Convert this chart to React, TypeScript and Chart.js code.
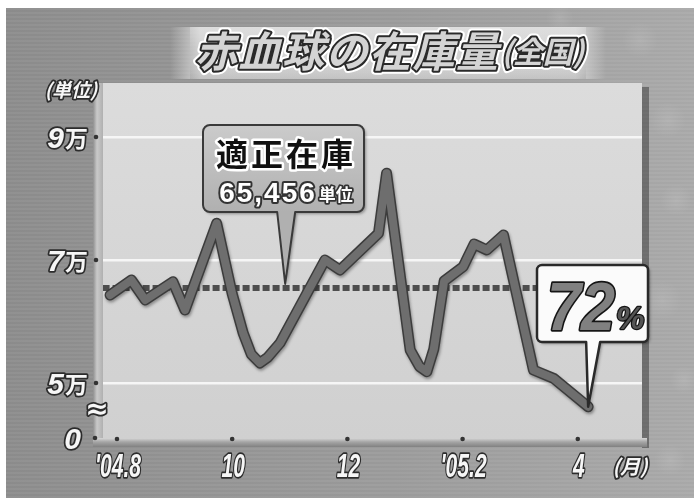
import React, { useEffect, useRef } from "react";
import { Chart, registerables } from "chart.js";

Chart.register(...registerables);

// ---------- text ----------
const TITLE_MAIN = "赤血球の在庫量";
const TITLE_SUB = "(全国)";
const Y_UNIT = "(単位)";
const X_UNIT = "(月)";
const Y_BREAK = "≈";

// ---------- data ----------
// x position in months counted from Aug 2004 ('04.8 = 0)
const months = [-0.12, 0.25, 0.49, 0.97, 1.18, 1.73, 2.0, 2.19, 2.33, 2.48, 2.62, 2.83, 3.61, 3.87, 4.54, 4.68, 5.09, 5.25, 5.38, 5.5, 5.68, 6.01, 6.2, 6.42, 6.71, 7.23, 7.58, 8.18];
// red blood cell stock (units)
const stock = [64300, 66750, 63500, 66470, 61870, 75970, 64500, 58130, 54700, 53250, 54200, 56500, 70000, 68370, 74340, 84100, 55370, 52700, 51840, 55500, 66590, 68910, 72600, 71630, 74070, 52110, 50760, 46150];

const targetStock = 65456;
const targetSpan = [-0.25, 9.2];

const xTickValues = [0, 2, 4, 6, 8];
const xTickLabels = ["'04.8", "10", "12", "'05.2", "4"];
const yTickValues = [50000, 70000, 90000];
const yTickDigits = ["5", "7", "9"];
const yTickUnit = "万";
const yBaseLabel = "0";

const X_MIN = -0.243;
const X_MAX = 9.115;
const Y_MIN = 41060;
const Y_MAX = 98780;

const calloutTitle = "適正在庫";
const calloutUnit = "単位";
const calloutMonth = 2.92;
const latestRatio = "72";
const latestRatioUnit = "%";

// ---------- fonts ----------
const JP = "'Noto Sans CJK JP', 'Noto Sans CJK SC', sans-serif";
const NUM = "'Liberation Sans', Arial, sans-serif";

type TxtOpts = {
  font: string;
  fill: string | CanvasGradient;
  stroke?: string;
  sw?: number;
  outer?: string;
  ow?: number;
  align?: CanvasTextAlign;
  baseline?: CanvasTextBaseline;
  spacing?: string;
  scaleX?: number;
};

function txt(ctx: CanvasRenderingContext2D, s: string, x: number, y: number, o: TxtOpts) {
  ctx.save();
  ctx.font = o.font;
  ctx.textAlign = o.align || "left";
  ctx.textBaseline = o.baseline || "alphabetic";
  if (o.spacing) (ctx as any).letterSpacing = o.spacing;
  ctx.translate(x, y);
  if (o.scaleX) ctx.scale(o.scaleX, 1);
  ctx.lineJoin = "round";
  if (o.outer) {
    ctx.strokeStyle = o.outer;
    ctx.lineWidth = o.ow || 6;
    ctx.strokeText(s, 0, 0);
  }
  if (o.stroke) {
    ctx.strokeStyle = o.stroke;
    ctx.lineWidth = o.sw || 3;
    ctx.strokeText(s, 0, 0);
  }
  ctx.fillStyle = o.fill;
  ctx.fillText(s, 0, 0);
  ctx.restore();
}

function measure(ctx: CanvasRenderingContext2D, s: string, font: string, spacing?: string) {
  ctx.save();
  ctx.font = font;
  if (spacing) (ctx as any).letterSpacing = spacing;
  const w = ctx.measureText(s).width;
  ctx.restore();
  return w;
}

function calloutPath(
  ctx: CanvasRenderingContext2D,
  x: number, y: number, w: number, h: number, r: number,
  bl: number, br: number, tx: number, ty: number
) {
  ctx.beginPath();
  ctx.moveTo(x + r, y);
  ctx.lineTo(x + w - r, y);
  ctx.arcTo(x + w, y, x + w, y + r, r);
  ctx.lineTo(x + w, y + h - r);
  ctx.arcTo(x + w, y + h, x + w - r, y + h, r);
  ctx.lineTo(br, y + h);
  ctx.lineTo(tx, ty);
  ctx.lineTo(bl, y + h);
  ctx.lineTo(x + r, y + h);
  ctx.arcTo(x, y + h, x, y + h - r, r);
  ctx.lineTo(x, y + r);
  ctx.arcTo(x, y, x + r, y, r);
  ctx.closePath();
}

const backdropPlugin = {
  id: "backdrop",
  beforeDraw(chart: any) {
    const ctx: CanvasRenderingContext2D = chart.ctx;
    const a = chart.chartArea;
    const W = chart.width;
    const H = chart.height;
    ctx.save();
    ctx.fillStyle = "#ffffff";
    ctx.fillRect(0, 0, W, H);
    const g = ctx.createLinearGradient(6, 0, W, 0);
    g.addColorStop(0, "#8b8b8b");
    g.addColorStop(0.5, "#989898");
    g.addColorStop(1, "#a8a8a8");
    ctx.fillStyle = g;
    ctx.fillRect(6, 8, W - 6, H - 8);
    ctx.fillStyle = "rgba(255,255,255,0.06)";
    for (let y = 8; y < H; y += 4) ctx.fillRect(6, y, W - 6, 2);
    const blobs = [
      [668, 120, 18], [676, 200, 16], [662, 300, 20], [684, 380, 14], [640, 40, 18], [560, 18, 14], [670, 460, 16],
    ];
    for (const [bx, by, br] of blobs) {
      const rg = ctx.createRadialGradient(bx, by, 0, bx, by, br);
      rg.addColorStop(0, "rgba(255,255,255,0.10)");
      rg.addColorStop(1, "rgba(255,255,255,0)");
      ctx.fillStyle = rg;
      ctx.beginPath();
      ctx.arc(bx, by, br, 0, Math.PI * 2);
      ctx.fill();
    }
    const bx0 = 170, bx1 = 606, by0 = 27, by1 = 79;
    const bg = ctx.createLinearGradient(bx0, 0, bx1, 0);
    bg.addColorStop(0, "rgba(214,214,214,0)");
    bg.addColorStop(0.07, "rgba(214,214,214,0.95)");
    bg.addColorStop(0.93, "rgba(214,214,214,0.95)");
    bg.addColorStop(1, "rgba(214,214,214,0)");
    ctx.fillStyle = bg;
    ctx.fillRect(bx0, by0, bx1 - bx0, by1 - by0);
    const vg = ctx.createLinearGradient(0, by0, 0, by1);
    vg.addColorStop(0, "rgba(255,255,255,0.25)");
    vg.addColorStop(0.5, "rgba(255,255,255,0)");
    vg.addColorStop(1, "rgba(0,0,0,0.08)");
    ctx.fillStyle = vg;
    ctx.fillRect(bx0 + 20, by0, bx1 - bx0 - 40, by1 - by0);
    ctx.fillStyle = "rgba(40,40,40,0.45)";
    ctx.fillRect(a.right, a.top + 4, 7, a.bottom - a.top + 6);
    const pg = ctx.createLinearGradient(0, a.top, 0, a.bottom);
    pg.addColorStop(0, "#dcdcdc");
    pg.addColorStop(1, "#d0d0d0");
    ctx.fillStyle = pg;
    ctx.fillRect(a.left, a.top, a.right - a.left, a.bottom - a.top);
    const wg = ctx.createLinearGradient(a.left - 10, 0, a.left, 0);
    wg.addColorStop(0, "#8f8f8f");
    wg.addColorStop(0.4, "#c9c9c9");
    wg.addColorStop(1, "#b0b0b0");
    ctx.fillStyle = wg;
    ctx.fillRect(a.left - 10, a.top, 10, a.bottom - a.top + 2);
    const fg = ctx.createLinearGradient(0, a.bottom, 0, a.bottom + 10);
    fg.addColorStop(0, "#d6d6d6");
    fg.addColorStop(0.4, "#a5a5a5");
    fg.addColorStop(1, "#7a7a7a");
    ctx.fillStyle = fg;
    ctx.fillRect(a.left - 10, a.bottom, a.right - a.left + 15, 9);
    ctx.restore();
  },
  beforeDatasetDraw(chart: any, args: any) {
    if (args.index !== 0) return;
    const ctx: CanvasRenderingContext2D = chart.ctx;
    const el = args.meta.dataset;
    ctx.save();
    ctx.beginPath();
    el.path(ctx);
    ctx.lineJoin = "round";
    ctx.lineCap = "round";
    ctx.lineWidth = 11;
    ctx.strokeStyle = "#3c3c3c";
    ctx.shadowColor = "rgba(0,0,0,0.35)";
    ctx.shadowBlur = 3;
    ctx.shadowOffsetX = 1;
    ctx.shadowOffsetY = 2;
    ctx.stroke();
    ctx.restore();
  },
  afterDraw(chart: any) {
    const ctx: CanvasRenderingContext2D = chart.ctx;
    const xs = chart.scales.x;
    const ys = chart.scales.y;
    const a = chart.chartArea;
    const lbl = { fill: "#f6f6f6", stroke: "#2c2c2c", sw: 3.5 };

    ctx.save();
    ctx.fillStyle = "#333";
    for (const v of xTickValues) {
      ctx.beginPath();
      ctx.arc(xs.getPixelForValue(v), a.bottom + 1, 2.3, 0, Math.PI * 2);
      ctx.fill();
    }
    for (const v of yTickValues) {
      ctx.beginPath();
      ctx.arc(a.left - 7, ys.getPixelForValue(v), 2.3, 0, Math.PI * 2);
      ctx.fill();
    }
    ctx.beginPath();
    ctx.arc(a.left - 8, a.bottom, 2.3, 0, Math.PI * 2);
    ctx.fill();
    ctx.restore();

    const unitFont = `bold 23px ${JP}`;
    const uw = measure(ctx, yTickUnit, unitFont);
    yTickValues.forEach((v, i) => {
      const py = ys.getPixelForValue(v);
      txt(ctx, yTickUnit, 88 - uw, py + 10, { font: unitFont, ...lbl });
      txt(ctx, yTickDigits[i], 88 - uw - 1, py + 11, { font: `italic bold 30px ${NUM}`, align: "right", ...lbl });
    });
    txt(ctx, yBaseLabel, 81, ys.getPixelForValue(Y_MIN) + 11, { font: `italic bold 30px ${NUM}`, align: "right", ...lbl });
    txt(ctx, Y_BREAK, 97, 411, { font: `bold 28px 'DejaVu Sans', sans-serif`, align: "center", baseline: "middle", ...lbl });
    txt(ctx, Y_UNIT, 71, 90, { font: `italic bold 19px ${JP}`, align: "center", baseline: "middle", ...lbl });

    xTickValues.forEach((v, i) => {
      txt(ctx, xTickLabels[i], xs.getPixelForValue(v) + 1, 477, {
        font: `italic bold 34px ${NUM}`, align: "center", scaleX: 0.62, ...lbl,
      });
    });
    txt(ctx, X_UNIT, 630, 466, { font: `italic bold 20px ${JP}`, align: "center", baseline: "middle", ...lbl });

    const tf = `italic bold 42px ${JP}`;
    const tw = measure(ctx, TITLE_MAIN, tf, "1.5px");
    const titleStyle = { fill: "#d4d4d4", stroke: "#2a2a2a", sw: 4, outer: "#ffffff", ow: 8, baseline: "middle" as CanvasTextBaseline };
    txt(ctx, TITLE_MAIN, 195, 51, { font: tf, spacing: "1.5px", ...titleStyle });
    txt(ctx, TITLE_SUB, 195 + tw + 2, 52, { font: `italic bold 30px ${JP}`, ...titleStyle });

    const tipX = xs.getPixelForValue(calloutMonth);
    const tipY = ys.getPixelForValue(targetStock) - 4;
    ctx.save();
    calloutPath(ctx, 203, 125, 161, 87, 7, tipX - 8, tipX + 10, tipX, tipY);
    const cg = ctx.createLinearGradient(0, 125, 0, 212);
    cg.addColorStop(0, "#cbcbcb");
    cg.addColorStop(1, "#b0b0b0");
    ctx.fillStyle = cg;
    ctx.shadowColor = "rgba(0,0,0,0.35)";
    ctx.shadowBlur = 3;
    ctx.shadowOffsetX = 2;
    ctx.shadowOffsetY = 2;
    ctx.fill();
    ctx.shadowColor = "transparent";
    ctx.lineWidth = 2;
    ctx.strokeStyle = "#3a3a3a";
    ctx.lineJoin = "round";
    ctx.stroke();
    ctx.restore();
    txt(ctx, calloutTitle, 286, 154, {
      font: `bold 32px ${JP}`, align: "center", baseline: "middle", spacing: "3px",
      fill: "#111111", stroke: "#ffffff", sw: 5,
    });
    const valText = targetStock.toLocaleString("en-US");
    const vf = `bold 28px ${NUM}`;
    const uf = `bold 17px ${JP}`;
    const w1 = measure(ctx, valText, vf, "2px");
    const w2 = measure(ctx, calloutUnit, uf);
    const sx = 286 - (w1 + w2 + 2) / 2;
    txt(ctx, valText, sx, 202, { font: vf, spacing: "2px", fill: "#ffffff", stroke: "#333333", sw: 4 });
    txt(ctx, calloutUnit, sx + w1 + 2, 201, { font: uf, fill: "#ffffff", stroke: "#333333", sw: 3.5 });

    const meta = chart.getDatasetMeta(0);
    const last = meta.data[meta.data.length - 1];
    ctx.save();
    calloutPath(ctx, 537, 265, 111, 77, 5, last.x - 2, last.x + 12, last.x, last.y);
    ctx.fillStyle = "#fbfbfb";
    ctx.shadowColor = "rgba(0,0,0,0.35)";
    ctx.shadowBlur = 3;
    ctx.shadowOffsetX = 2;
    ctx.shadowOffsetY = 2;
    ctx.fill();
    ctx.shadowColor = "transparent";
    ctx.lineWidth = 2.5;
    ctx.strokeStyle = "#2a2a2a";
    ctx.lineJoin = "round";
    ctx.stroke();
    ctx.restore();
    const rf = `italic bold 68px ${NUM}`;
    const rw = measure(ctx, latestRatio, rf) * 0.9;
    const rg = ctx.createLinearGradient(0, 280, 0, 330);
    rg.addColorStop(0, "#808080");
    rg.addColorStop(1, "#3c3c3c");
    txt(ctx, latestRatio, 547, 330, { font: rf, scaleX: 0.9, fill: rg, stroke: "#151515", sw: 3.5 });
    txt(ctx, latestRatioUnit, 547 + rw + 1, 329, { font: `italic bold 32px ${NUM}`, fill: "#555555", stroke: "#151515", sw: 2.5 });
  },
};

export default function App() {
  const ref = useRef<HTMLCanvasElement | null>(null);

  useEffect(() => {
    if (!ref.current) return;
    const chart = new Chart(ref.current, {
      type: "line",
      data: {
        datasets: [
          {
            label: "在庫量",
            data: months.map((m, i) => ({ x: m, y: stock[i] })),
            borderColor: "#6e6e6e",
            borderWidth: 8,
            pointRadius: 0,
            tension: 0,
            borderJoinStyle: "round",
            borderCapStyle: "round",
            clip: false,
            order: 1,
          } as any,
          {
            label: "適正在庫",
            data: targetSpan.map((m) => ({ x: m, y: targetStock })),
            borderColor: "#4e4e4e",
            borderWidth: 6,
            borderDash: [7, 3],
            pointRadius: 0,
            tension: 0,
            order: 2,
          } as any,
        ],
      },
      options: {
        animation: false,
        responsive: false,
        devicePixelRatio: 1,
        events: [],
        layout: { padding: { top: 83, right: 52, bottom: 0, left: 0 }, autoPadding: false } as any,
        plugins: { legend: { display: false }, tooltip: { enabled: false }, title: { display: false } },
        scales: {
          x: {
            type: "linear",
            min: X_MIN,
            max: X_MAX,
            grid: { display: false },
            border: { display: false },
            ticks: { display: false },
            afterBuildTicks: (s: any) => {
              s.ticks = xTickValues.map((v) => ({ value: v }));
            },
            afterFit: (s: any) => {
              s.height = 60;
            },
          },
          y: {
            type: "linear",
            min: Y_MIN,
            max: Y_MAX,
            grid: { color: "#f6f6f6", lineWidth: 2.5, drawTicks: false },
            border: { display: false },
            ticks: { display: false },
            afterBuildTicks: (s: any) => {
              s.ticks = yTickValues.map((v) => ({ value: v }));
            },
            afterFit: (s: any) => {
              s.width = 103;
            },
          },
        },
      } as any,
      plugins: [backdropPlugin],
    });
    return () => chart.destroy();
  }, []);

  return (
    <div style={{ position: "absolute", left: 0, top: 0, width: 694, height: 498 }}>
      <canvas ref={ref} width={694} height={498} />
    </div>
  );
}
